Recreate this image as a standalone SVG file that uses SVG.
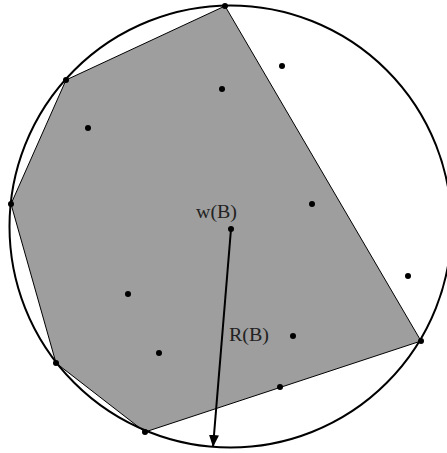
<svg xmlns="http://www.w3.org/2000/svg" width="447" height="453" viewBox="0 0 447 453">
<style>
.pt{fill:#000}
.lbl{font-family:"Liberation Serif","DejaVu Serif",serif;font-size:19px;fill:#222}
</style>
<defs>
<marker id="ah" viewBox="0 0 12 10" refX="12" refY="5" markerWidth="12" markerHeight="10" markerUnits="userSpaceOnUse" orient="auto">
<path d="M0,0 L12,5 L0,10 Z" fill="#000"/>
</marker>
</defs>
<rect width="447" height="453" fill="#fff"/>
<g id="hull">
<polygon points="225,6 421,341 145,432 56,363 11,204 66,80" fill="#9e9e9e" stroke="#000" stroke-width="1"/>
</g>
<g id="circle">
<circle cx="230.5" cy="226.5" r="221" fill="none" stroke="#000" stroke-width="2"/>
</g>
<g id="connectors">
<line x1="231" y1="229" x2="213" y2="447" stroke="#000" stroke-width="2" marker-end="url(#ah)"/>
</g>
<g id="points">
<circle class="pt" cx="225" cy="6" r="3"/>
<circle class="pt" cx="66" cy="80" r="3"/>
<circle class="pt" cx="11" cy="204" r="3"/>
<circle class="pt" cx="56" cy="363" r="3"/>
<circle class="pt" cx="145" cy="432" r="3"/>
<circle class="pt" cx="421" cy="341" r="3"/>
<circle class="pt" cx="282" cy="66" r="3"/>
<circle class="pt" cx="222" cy="89" r="3"/>
<circle class="pt" cx="88" cy="128" r="3"/>
<circle class="pt" cx="312" cy="204" r="3"/>
<circle class="pt" cx="231" cy="229" r="3"/>
<circle class="pt" cx="408" cy="276" r="3"/>
<circle class="pt" cx="128" cy="294" r="3"/>
<circle class="pt" cx="293" cy="336" r="3"/>
<circle class="pt" cx="159" cy="353" r="3"/>
<circle class="pt" cx="280" cy="387" r="3"/>
</g>
<g id="labels">
<text class="lbl" x="196" y="218" textLength="41" lengthAdjust="spacingAndGlyphs">w(B)</text>
<text class="lbl" x="229" y="341" textLength="40" lengthAdjust="spacingAndGlyphs">R(B)</text>
</g>
</svg>
